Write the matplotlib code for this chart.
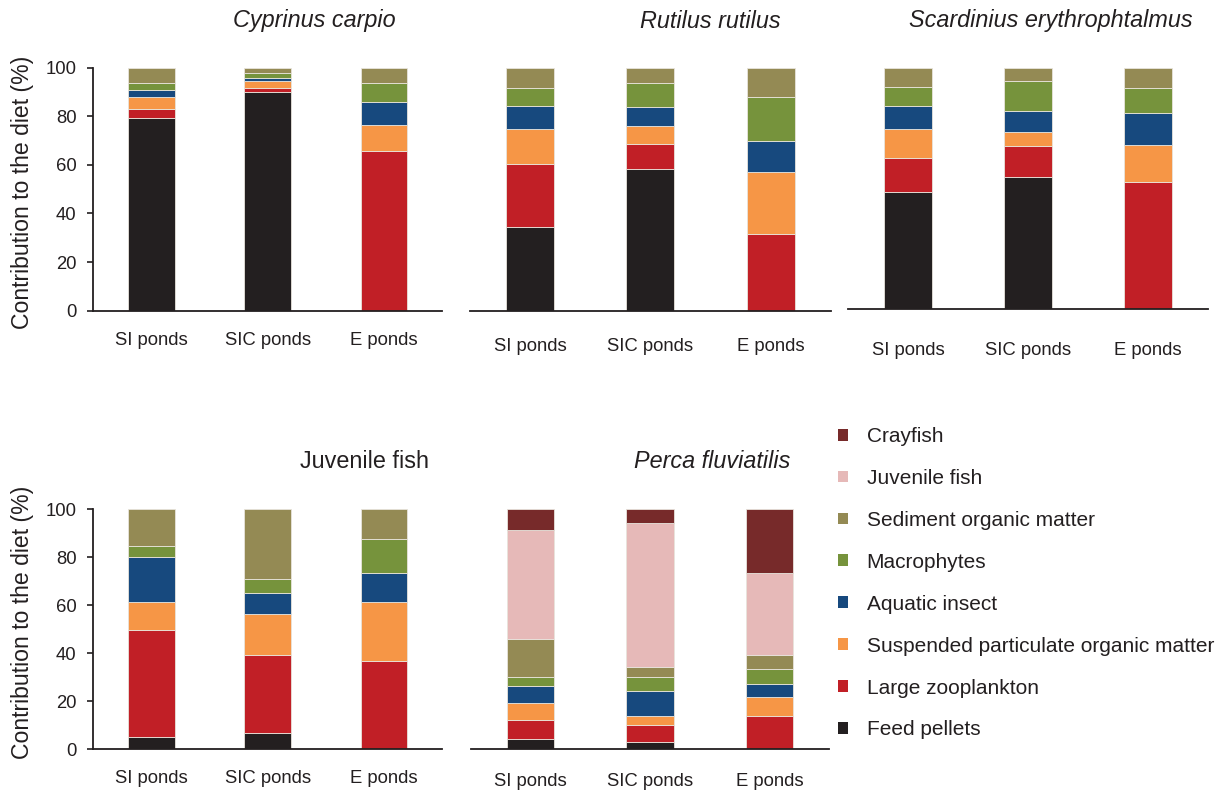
import matplotlib
matplotlib.use('Agg')
import matplotlib.pyplot as plt
from matplotlib.patches import Patch

plt.rcParams['font.family'] = ['Liberation Sans', 'DejaVu Sans']

# Pond types (x categories) and diet sources (stack order, bottom to top)
sites = ['SI ponds', 'SIC ponds', 'E ponds']
sources = ['Feed pellets', 'Large zooplankton', 'Suspended particulate organic matter',
           'Aquatic insect', 'Macrophytes', 'Sediment organic matter',
           'Juvenile fish', 'Crayfish']
colors = ['#231f20', '#c11f26', '#f69646', '#17497e', '#76933c', '#948a54',
          '#e6b9b8', '#772a2a']

# Contribution to the diet (%) per site, one value per source (same order as sources)
cyprinus = [[79.4, 3.7, 5.0, 2.6, 2.9, 6.4, 0, 0],
            [90.1, 1.7, 2.6, 1.4, 1.9, 2.3, 0, 0],
            [0, 65.7, 10.8, 9.5, 7.6, 6.4, 0, 0]]
rutilus = [[34.6, 25.8, 14.4, 9.4, 7.3, 8.5, 0, 0],
           [58.3, 10.3, 7.4, 7.8, 9.8, 6.4, 0, 0],
           [0, 31.4, 25.8, 12.8, 17.8, 12.2, 0, 0]]
scardinius = [[48.7, 13.9, 12.2, 9.5, 7.8, 7.9, 0, 0],
              [54.8, 12.8, 5.8, 8.7, 12.3, 5.6, 0, 0],
              [0, 52.8, 15.2, 13.4, 10.1, 8.5, 0, 0]]
juvenile = [[5.0, 44.8, 11.5, 19.0, 4.3, 15.4, 0, 0],
            [6.9, 32.5, 16.9, 9.0, 5.8, 28.9, 0, 0],
            [0, 36.9, 24.4, 12.3, 14.2, 12.2, 0, 0]]
perca = [[4.2, 8.1, 6.9, 7.3, 3.8, 15.8, 45.3, 8.6],
         [3.2, 6.9, 3.9, 10.2, 6.1, 4.0, 60.1, 5.6],
         [0, 13.9, 7.8, 5.5, 6.1, 6.0, 34.3, 26.4]]

W, H = 1226, 792
fig = plt.figure(figsize=(W / 100, H / 100), dpi=100)


def px_axes(left, right, top, bottom):
    return fig.add_axes([left / W, 1 - bottom / H, (right - left) / W, (bottom - top) / H])


def draw_panel(ax, data, yaxis, label_pad):
    for i, row in enumerate(data):
        base = 0
        for j, val in enumerate(row):
            if val > 0:
                ax.bar(i, val, width=0.4, bottom=base, color=colors[j],
                       edgecolor='#e8e4dc', linewidth=0.6)
            base += val
    ax.set_xlim(-0.5, 2.5)
    ax.set_ylim(0, 100)
    ax.set_xticks(range(3))
    ax.set_xticklabels(sites, fontsize=13.3, color='#231f20')
    ax.tick_params(axis='x', length=0, pad=label_pad)
    for s in ['top', 'right']:
        ax.spines[s].set_visible(False)
    ax.spines['bottom'].set_color('#231f20')
    ax.spines['bottom'].set_linewidth(1.3)
    if yaxis:
        ax.spines['left'].set_color('#231f20')
        ax.spines['left'].set_linewidth(1.3)
        ax.set_yticks([0, 20, 40, 60, 80, 100])
        ax.tick_params(axis='y', length=4, width=1.2, pad=8, labelsize=13.3,
                       color='#231f20', labelcolor='#231f20')
    else:
        ax.spines['left'].set_visible(False)
        ax.set_yticks([])


ax1 = px_axes(93.3, 442, 67.7, 310.7)
ax2 = px_axes(470, 830.7, 67.7, 310.7)
ax3 = px_axes(848.3, 1207.7, 67.7, 309.3)
ax4 = px_axes(93.3, 442, 509.3, 749.3)
ax5 = px_axes(470.7, 829.3, 509.3, 749.3)

draw_panel(ax1, cyprinus, True, 15.5)
draw_panel(ax2, rutilus, False, 19.5)
draw_panel(ax3, scardinius, False, 23.5)
draw_panel(ax4, juvenile, True, 15)
draw_panel(ax5, perca, False, 17)

# Panel titles
title_kw = dict(fontsize=16.8, color='#231f20', ha='center', va='center')
fig.text(314 / W, 1 - 21 / H, 'Cyprinus carpio', style='italic', **title_kw)
fig.text(710 / W, 1 - 21 / H, 'Rutilus rutilus', style='italic', **title_kw)
fig.text(1051 / W, 1 - 20 / H, 'Scardinius erythrophtalmus', style='italic', **title_kw)
fig.text(364 / W, 1 - 461 / H, 'Juvenile fish', **title_kw)
fig.text(712 / W, 1 - 461 / H, 'Perca fluviatilis', style='italic', **title_kw)

# Y labels
for yc in [192.5, 622.5]:
    fig.text(23 / W, 1 - yc / H, 'Contribution to the diet (%)', rotation=90,
             fontsize=16.6, color='#231f20', ha='center', va='center')

# Legend, top entry is Crayfish
handles = [Patch(facecolor=colors[k], edgecolor='none') for k in range(7, -1, -1)]
labels = [sources[k] for k in range(7, -1, -1)]
fig.legend(handles, labels, loc='upper left', bbox_to_anchor=(838 / W, 1 - 427 / H),
           frameon=False, fontsize=15, handlelength=0.5, handleheight=0.5,
           handletextpad=0.87, labelspacing=1.1, borderpad=0, borderaxespad=0,
           labelcolor='#231f20')

plt.savefig('out.png', dpi=100)
